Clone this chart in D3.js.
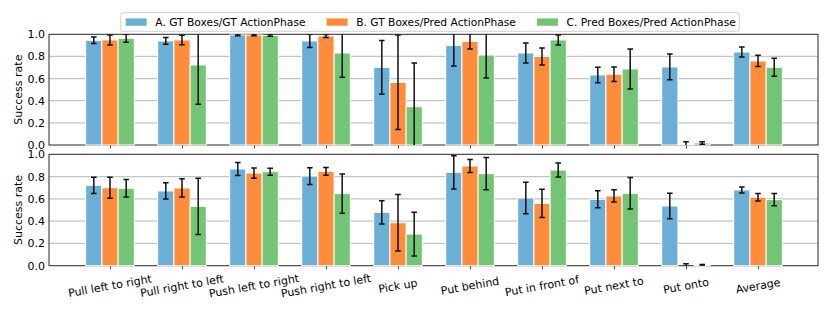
<!DOCTYPE html>
<html>
<head>
<meta charset="utf-8">
<script src="https://cdn.jsdelivr.net/npm/d3@7"></script>
<style>
  html, body { margin: 0; padding: 0; background: #fff; }
  svg { display: block; font-family: "DejaVu Sans", sans-serif; }
</style>
</head>
<body>
<svg id="chart" width="830" height="311"></svg>
<script>
// ---------- data ----------
const categories = ["Pull left to right", "Pull right to left", "Push left to right", "Push right to left",
  "Pick up", "Put behind", "Put in front of", "Put next to", "Put onto", "Average"];
const seriesNames = ["A. GT Boxes/GT ActionPhase", "B. GT Boxes/Pred ActionPhase", "C. Pred Boxes/Pred ActionPhase"];
const yTicks = [0.0, 0.2, 0.4, 0.6, 0.8, 1.0];

// top panel
const topA    = [0.946, 0.940, 0.994, 0.940, 0.702, 0.900, 0.831, 0.633, 0.705, 0.840];
const topAerr = [0.030, 0.030, 0.006, 0.060, 0.243, 0.186, 0.090, 0.070, 0.116, 0.045];
const topB    = [0.949, 0.949, 0.994, 0.985, 0.566, 0.937, 0.800, 0.639, 0.008, 0.759];
const topBerr = [0.045, 0.043, 0.006, 0.013, 0.427, 0.070, 0.077, 0.066, 0.022, 0.051];
const topC    = [0.964, 0.723, 0.990, 0.831, 0.346, 0.813, 0.949, 0.687, 0.018, 0.702];
const topCerr = [0.036, 0.356, 0.008, 0.220, 0.395, 0.208, 0.045, 0.180, 0.012, 0.081];

// bottom panel
const botA    = [0.722, 0.671, 0.868, 0.805, 0.479, 0.838, 0.608, 0.596, 0.536, 0.680];
const botAerr = [0.073, 0.073, 0.058, 0.075, 0.105, 0.150, 0.141, 0.076, 0.114, 0.027];
const botB    = [0.700, 0.698, 0.832, 0.847, 0.386, 0.895, 0.560, 0.626, 0.000, 0.614];
const botBerr = [0.095, 0.082, 0.046, 0.035, 0.254, 0.058, 0.127, 0.055, 0.018, 0.034];
const botC    = [0.695, 0.533, 0.844, 0.647, 0.284, 0.826, 0.859, 0.650, 0.006, 0.593];
const botCerr = [0.078, 0.253, 0.031, 0.177, 0.196, 0.145, 0.063, 0.142, 0.004, 0.055];

// ---------- style ----------
const colors = ["#6baed6", "#fd8d3c", "#74c476"];
const barW = 0.225;
const FONT = 11;
const LEGFONT = 10.7;

const svg = d3.select("#chart");
const left = 49, right = 818;
const x = d3.scaleLinear().domain([-0.847, 9.833]).range([left, right]);

const panels = [
  { top: 34.3, bottom: 145, vals: [topA, topB, topC], errs: [topAerr, topBerr, topCerr], labels: false },
  { top: 154.3, bottom: 265.7, vals: [botA, botB, botC], errs: [botAerr, botBerr, botCerr], labels: true }
];

panels.forEach((p, pi) => {
  const y = d3.scaleLinear().domain([0, 1]).range([p.bottom, p.top]);
  const g = svg.append("g");
  const clipId = "clip" + pi;
  svg.append("clipPath").attr("id", clipId)
    .append("rect").attr("x", left).attr("y", p.top).attr("width", right - left).attr("height", p.bottom - p.top);

  // grid
  g.selectAll("line.grid").data(yTicks.filter(t => t > 0 && t < 1)).enter().append("line")
    .attr("x1", left).attr("x2", right)
    .attr("y1", d => y(d)).attr("y2", d => y(d))
    .attr("stroke", "#c4c4c4").attr("stroke-width", 1.2);

  // frame
  g.append("rect").attr("x", left).attr("y", p.top).attr("width", right - left).attr("height", p.bottom - p.top)
    .attr("fill", "none").attr("stroke", "#262626").attr("stroke-width", 1);

  // y axis labels (no ticks)
  const yAxis = d3.axisLeft(y).tickValues(yTicks).tickFormat(d3.format(".1f")).tickSize(0).tickPadding(4);
  const ya = g.append("g").attr("transform", `translate(${left},0)`).call(yAxis);
  ya.select(".domain").remove();
  ya.selectAll("text").attr("font-size", FONT).attr("font-family", "DejaVu Sans").attr("fill", "#000");

  // x ticks
  const xAxis = d3.axisBottom(x).tickValues(d3.range(categories.length))
    .tickSize(3.5).tickFormat("");
  const xa = g.append("g").attr("transform", `translate(0,${p.bottom})`).call(xAxis);
  xa.select(".domain").remove();
  xa.selectAll("line").attr("stroke", "#333").attr("stroke-width", 0.9);

  // bars
  const bars = g.append("g");
  p.vals.forEach((vals, si) => {
    bars.selectAll("rect.s" + si).data(vals).enter().append("rect")
      .attr("x", (d, i) => x(i + (si - 1) * barW - barW / 2))
      .attr("width", x(barW) - x(0))
      .attr("y", d => y(d))
      .attr("height", d => y(0) - y(d))
      .attr("fill", colors[si])
      .attr("stroke", "#fff").attr("stroke-width", 1);
  });

  // error bars
  const eb = g.append("g").attr("clip-path", `url(#${clipId})`);
  p.vals.forEach((vals, si) => {
    const errs = p.errs[si];
    vals.forEach((v, i) => {
      const cx = x(i + (si - 1) * barW);
      const lo = v - errs[i], hi = v + errs[i];
      eb.append("line").attr("x1", cx).attr("x2", cx).attr("y1", y(lo)).attr("y2", y(hi))
        .attr("stroke", "#111").attr("stroke-width", 1.5);
      [lo, hi].forEach(e => {
        eb.append("line").attr("x1", cx - 2.8).attr("x2", cx + 2.8).attr("y1", y(e)).attr("y2", y(e))
          .attr("stroke", "#111").attr("stroke-width", 1.5);
      });
    });
  });

  // y label
  svg.append("text")
    .attr("transform", `translate(18,${(p.top + p.bottom) / 2}) rotate(-90)`)
    .attr("text-anchor", "middle").attr("dominant-baseline", "central")
    .attr("font-size", FONT).attr("fill", "#000")
    .text("Success rate");

  // x labels
  if (p.labels) {
    svg.append("g").selectAll("text").data(categories).enter().append("text")
      .attr("transform", (d, i) => `translate(${x(i)},${p.bottom + 20.5}) rotate(-10)`)
      .attr("text-anchor", "middle").attr("dominant-baseline", "central")
      .attr("font-size", FONT).attr("fill", "#000")
      .text(d => d);
  }
});

// ---------- legend ----------
const leg = svg.append("g");
const legBox = leg.append("rect")
  .attr("y", 12.7).attr("height", 18.6).attr("rx", 2.5)
  .attr("fill", "#fff").attr("stroke", "#d0d0d0").attr("stroke-width", 1);
let cx = 125.7;
seriesNames.forEach((name, i) => {
  leg.append("rect").attr("x", cx).attr("y", 18.4).attr("width", 21).attr("height", 7.4)
    .attr("fill", colors[i]);
  const t = leg.append("text").attr("x", cx + 29.6).attr("y", 22)
    .attr("dominant-baseline", "central").attr("font-size", LEGFONT).attr("fill", "#000").text(name);
  const w = t.node().getComputedTextLength();
  cx = cx + 29.6 + w + 21;
});
const legEnd = cx - 21 + 3.5;
legBox.attr("x", 120.7).attr("width", legEnd - 120.7);
</script>
</body>
</html>
